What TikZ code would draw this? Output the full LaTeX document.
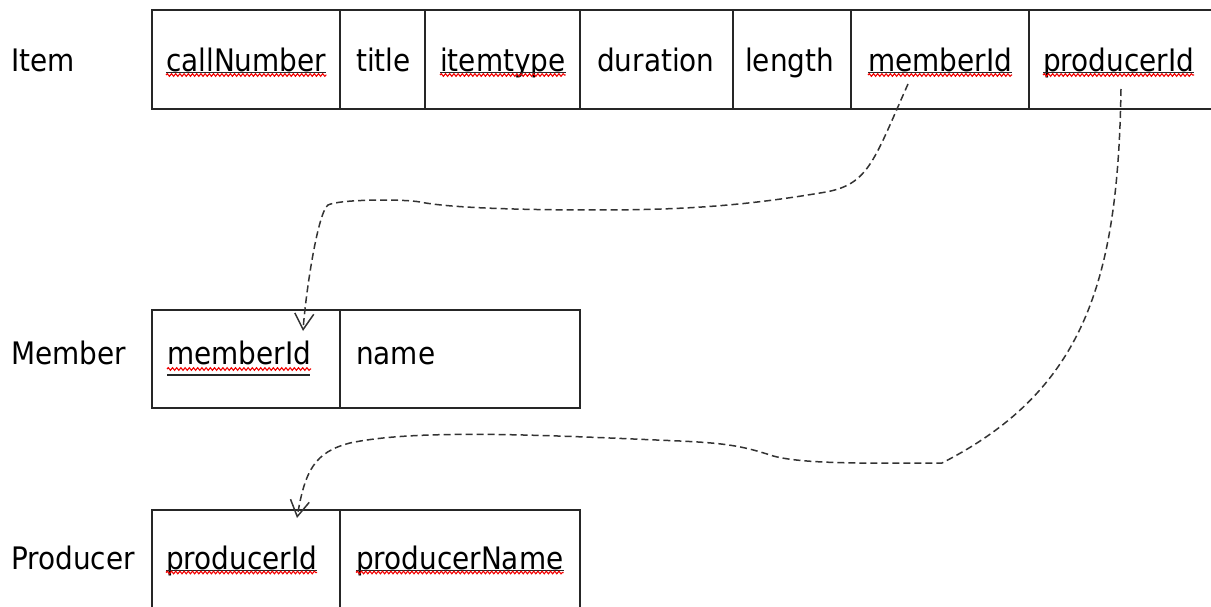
\documentclass[tikz,border=0pt]{standalone}
\usepackage{fontspec}
\setmainfont{DejaVu Sans Condensed}
\usetikzlibrary{arrows.meta,decorations.pathmorphing,calc}
\begin{document}
\begin{tikzpicture}[x=1pt,y=-1pt,
  tbl/.style={line width=1.6pt, draw=black!85},
  lbl/.style={inner sep=0pt, anchor=base west, font=\fontsize{31}{36}\selectfont, text=black},
  squig/.style={draw=red!95!black, line width=1.1pt, decorate, decoration={snake, segment length=4.2pt, amplitude=1.3pt}},
  uline/.style={draw=black!85, line width=0.8pt},
  fk/.style={draw=black!80, line width=1.5pt, dash pattern=on 7pt off 4pt, -{Straight Barb[length=16pt,width=19pt]}}]
\useasboundingbox (0,0) rectangle (1211,607);
% Item table
\draw[tbl] (1211,10) -- (152,10) -- (152,109) -- (1211,109);
\foreach \x in {340,425,580,733,851,1029} \draw[tbl] (\x,10) -- (\x,109);
% Member table
\draw[tbl] (152,310) rectangle (580,408);
\draw[tbl] (340,310) -- (340,408);
% Producer table
\draw[tbl] (152,607) -- (152,510) -- (580,510) -- (580,607);
\draw[tbl] (340,510) -- (340,607);
% labels
\node[lbl] (litem) at (11,71.5) {Item};
\node[lbl] (lmem) at (11,364) {Member};
\node[lbl] (lprod) at (11,569) {Producer};
% Item fields
\node[lbl] (icn) at (166,71.5) {callNumber};
\node[lbl] (iti) at (356,71.5) {title};
\node[lbl] (iit) at (440,71.5) {itemtype};
\node[lbl] (idu) at (597,71.5) {duration};
\node[lbl] (ile) at (745,71.5) {length};
\node[lbl] (imid) at (868,71.5) {memberId};
\node[lbl] (ipid) at (1043,71.5) {producerId};
% Member fields
\node[lbl] (mmid) at (167,364) {memberId};
\node[lbl] (mna) at (356,364) {name};
% Producer fields
\node[lbl] (ppid) at (166,569) {producerId};
\node[lbl] (ppn) at (356,569) {producerName};
% underlines and spell-check squiggles
\foreach \n in {icn,iit,imid,ipid,ppid,ppn} {
  \draw[uline] ($(\n.base west)+(0,1)$) -- ($(\n.base east)+(0,1)$);
  \draw[squig] ($(\n.base west)+(0,3.5)$) -- ($(\n.base east)+(0,3.5)$);
}
\draw[squig] ($(mmid.base west)+(0,5)$) -- ($(mmid.base east)+(0,5)$);
\draw[draw=black!85, line width=1.5pt] (mmid.base west) ++(0,11) -- ++(143,0);
% connectors
\coordinate (fk1s) at (908,84);
\coordinate (fk1e) at (303,331);
\coordinate (fk2s) at (1121,89);
\coordinate (fk2e) at (297,518);
\draw[fk] (fk1s) .. controls (872,165) and (868,186) .. (820,193)
  .. controls (760,203) and (700,210) .. (600,210)
  .. controls (520,210) and (450,208) .. (420,202)
  .. controls (405,199) and (340,199) .. (328,205)
  .. controls (318,212) and (306,290) .. (fk1e);
\draw[fk] (fk2s) .. controls (1118,280) and (1085,390) .. (942,463)
  .. controls (880,463) and (800,465) .. (770,455)
  .. controls (740,445) and (720,443) .. (680,441)
  .. controls (560,436) and (420,428) .. (350,443)
  .. controls (315,452) and (305,470) .. (fk2e);
\end{tikzpicture}
\end{document}
